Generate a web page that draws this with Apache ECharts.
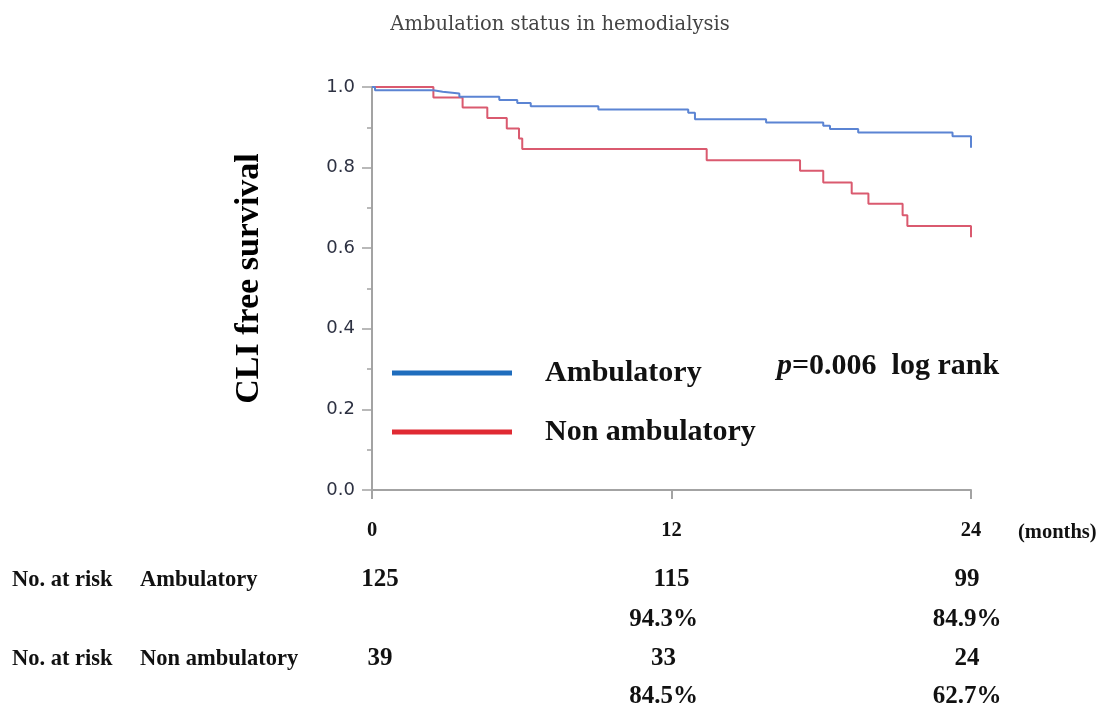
<!DOCTYPE html>
<html>
<head>
<meta charset="utf-8">
<script src="https://cdn.jsdelivr.net/npm/echarts@6/dist/echarts.min.js"></script>
<style>html,body{margin:0;padding:0;background:#fff}#c{width:1104px;height:711px}</style>
</head>
<body>
<div id="c"></div>
<script>
// Kaplan-Meier step points [month, survival]
const ambulatory = [[0,1.0],[0.12,0.992],[2.46,0.988],[2.83,0.984],[3.5,0.976],[5.1,0.968],[5.82,0.960],[6.36,0.952],[9.07,0.944],[12.67,0.936],[12.94,0.920],[15.79,0.912],[18.08,0.904],[18.35,0.896],[19.48,0.887],[23.26,0.878],[24,0.849]];
const nonAmbulatory = [[0,1.0],[2.46,0.974],[3.63,0.949],[4.62,0.923],[5.4,0.897],[5.89,0.872],[6.02,0.846],[13.41,0.818],[17.15,0.792],[18.08,0.763],[19.22,0.736],[19.89,0.710],[21.26,0.682],[21.45,0.655],[24,0.627]];
const seriesNames = ['Ambulatory','Non ambulatory'];
const riskMonths = [0,12,24];
const riskAmbulatory = ['125','115','99'];
const survAmbulatory = ['','94.3%','84.9%'];
const riskNonAmbulatory = ['39','33','24'];
const survNonAmbulatory = ['','84.5%','62.7%'];

const chart = echarts.init(document.getElementById('c'));
const serif = 'Liberation Serif';
const axisGray = '#a3a3a3';
chart.setOption({
  animation:false,
  backgroundColor:'#fff',
  title:{text:'Ambulation status in hemodialysis',left:555,textAlign:'center',top:10,
    textStyle:{fontFamily:'DejaVu Serif',fontWeight:'normal',fontSize:19.5,color:'#444'}},
  grid:{left:372,right:133,top:87,bottom:221},
  legend:{orient:'vertical',left:387,top:351,itemWidth:120,itemHeight:5,itemGap:25,icon:'rect',
    textStyle:{fontFamily:serif,fontWeight:'bold',fontSize:30,color:'#111',padding:[0,0,0,28],lineHeight:34},
    data:[{name:seriesNames[0],itemStyle:{color:'#1f6dbd'}},{name:seriesNames[1],itemStyle:{color:'#e02a33'}}]},
  xAxis:{type:'value',min:0,max:24,interval:12,
    axisLine:{lineStyle:{color:axisGray,width:2}},
    axisTick:{length:9,lineStyle:{color:axisGray,width:2}},
    splitLine:{show:false},
    axisLabel:{margin:30,fontFamily:serif,fontWeight:'bold',fontSize:20.5,color:'#111'}},
  yAxis:{type:'value',min:0,max:1,interval:0.2,
    name:'CLI free survival',nameLocation:'middle',nameGap:106,
    nameTextStyle:{fontFamily:serif,fontWeight:'bold',fontSize:34,color:'#000',padding:[0,0,0,20]},
    axisLine:{show:true,lineStyle:{color:axisGray,width:2}},
    axisTick:{show:true,length:10,lineStyle:{color:axisGray,width:1.5}},
    minorTick:{show:true,splitNumber:2,length:5,lineStyle:{color:axisGray,width:1.5}},
    splitLine:{show:false},
    axisLabel:{margin:17,fontFamily:'DejaVu Sans',fontSize:18,color:'#2d3142',formatter:v=>v.toFixed(1)}},
  series:[
    {name:seriesNames[0],type:'line',step:'end',showSymbol:false,data:ambulatory,
      itemStyle:{color:'#5b84d3'},lineStyle:{color:'#5b84d3',width:2},z:3},
    {name:seriesNames[1],type:'line',step:'end',showSymbol:false,data:nonAmbulatory,
      itemStyle:{color:'#da5a6f'},lineStyle:{color:'#da5a6f',width:2},z:2}
  ]
});

const g = [];
const tStyle = (txt,x,y,align,size)=>({type:'text',x:x,y:y,style:{text:txt,fontFamily:serif,fontWeight:'bold',fontSize:size,fill:'#111',align:align,verticalAlign:'middle'}});
g.push({type:'text',x:1018,y:533,style:{text:'(months)',fontFamily:serif,fontWeight:'bold',fontSize:20.5,fill:'#111',verticalAlign:'middle'}});
g.push({type:'text',x:777,y:366,style:{text:'{i|p}{b|=0.006  log rank}',verticalAlign:'middle',
  rich:{i:{fontFamily:serif,fontStyle:'italic',fontWeight:'bold',fontSize:30,fill:'#111'},
        b:{fontFamily:serif,fontWeight:'bold',fontSize:30,fill:'#111'}}}});
const rows = [
  {label:'No. at risk', group:seriesNames[0], vals:riskAmbulatory, y:580},
  {label:'', group:'', vals:survAmbulatory, y:620},
  {label:'No. at risk', group:seriesNames[1], vals:riskNonAmbulatory, y:659},
  {label:'', group:'', vals:survNonAmbulatory, y:697}
];
const offs = [8,-8,-4];
rows.forEach(r=>{
  if(r.label){ g.push(tStyle(r.label,12,r.y,'left',22.5)); g.push(tStyle(r.group,140,r.y,'left',22.5)); }
  r.vals.forEach((v,i)=>{
    if(!v) return;
    let o = offs[i];
    if(i===1 && r.vals===riskAmbulatory) o = 0;
    const px = chart.convertToPixel({xAxisIndex:0}, riskMonths[i]) + o;
    g.push(tStyle(v,px,r.y,'center',25));
  });
});
chart.setOption({graphic:g});
</script>
</body>
</html>
